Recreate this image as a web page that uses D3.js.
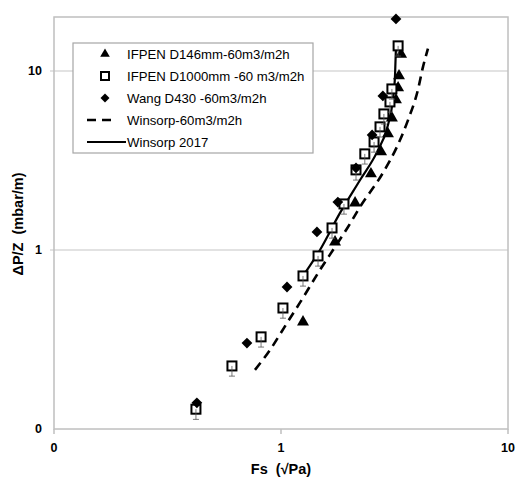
<!DOCTYPE html>
<html>
<head>
<meta charset="utf-8">
<script src="https://cdn.jsdelivr.net/npm/d3@7"></script>
<style>
  body { margin: 0; background: #fff; }
  text { font-family: "Liberation Sans", Arial, sans-serif; fill: #000; }
  .tick-label { font-size: 12.5px; font-weight: bold; }
  .axis-title { font-size: 14.5px; font-weight: bold; }
  .legend-label { font-size: 13.2px; }
</style>
</head>
<body>
<div id="chart"></div>
<script>
// IFPEN D146mm - triangles
const tri146X = [1.25, 1.73, 2.12, 2.49, 2.76, 2.96, 3.08, 3.21, 3.28, 3.31, 3.38];
const tri146Y = [0.396, 1.108, 1.83, 2.66, 3.53, 4.45, 5.46, 6.89, 8.04, 9.38, 12.4];

// IFPEN D1000mm - open squares
const sq1000X = [0.422, 0.608, 0.817, 1.02, 1.25, 1.456, 1.678, 1.894, 2.14, 2.34, 2.57, 2.73, 2.84, 3.02, 3.08, 3.28];
const sq1000Y = [0.129, 0.225, 0.327, 0.474, 0.716, 0.926, 1.327, 1.807, 2.80, 3.44, 4.01, 4.87, 5.75, 6.71, 7.93, 13.8];
const sq1000ErrFrac = 0.1;

// Wang D430 - diamonds
const wangX = [0.426, 0.708, 1.063, 1.44, 1.78, 2.14, 2.52, 2.81, 3.21];
const wangY = [0.140, 0.302, 0.621, 1.26, 1.85, 2.87, 4.39, 7.25, 19.5];

// Winsorp-60m3/m2h - dashed curve
const winsorp60X = [0.768, 0.894, 1.063, 1.21, 1.485, 1.73, 1.97, 2.23, 2.81, 3.24, 3.63, 4.01, 4.22, 4.44];
const winsorp60Y = [0.214, 0.276, 0.391, 0.506, 0.773, 1.04, 1.34, 1.74, 2.69, 3.76, 5.33, 7.83, 10.5, 13.3];

// Winsorp 2017 - solid curve
const winsorp2017X = [1.25, 1.485, 1.82, 2.23, 2.65, 2.96, 3.11, 3.18, 3.21];
const winsorp2017Y = [0.716, 1.0, 1.61, 2.46, 3.53, 4.99, 6.89, 9.5, 13.6];

const xTicks = [0.1, 1, 10];
const xTickLabels = ["0", "1", "10"];
const yTicks = [0.1, 1, 10];
const yTickLabels = ["0", "1", "10"];
const yMax = 20;

const legendLabels = ["IFPEN D146mm-60m3/m2h", "IFPEN D1000mm -60 m3/m2h", "Wang D430 -60m3/m2h", "Winsorp-60m3/m2h", "Winsorp 2017"];

class LogChart {
  constructor(_config) {
    this.config = {
      parentElement: _config.parentElement,
      containerWidth: 516,
      containerHeight: 477,
      margin: { top: 17, right: 8, bottom: 48, left: 54 },
      gridColor: "#d9d9d9",
      borderColor: "#bfbfbf"
    };
    this.initVis();
  }

  initVis() {
    let vis = this;
    vis.width = vis.config.containerWidth - vis.config.margin.left - vis.config.margin.right;
    vis.height = vis.config.containerHeight - vis.config.margin.top - vis.config.margin.bottom;

    vis.svg = d3.select(vis.config.parentElement).append("svg")
      .attr("width", vis.config.containerWidth)
      .attr("height", vis.config.containerHeight);

    vis.chart = vis.svg.append("g")
      .attr("transform", `translate(${vis.config.margin.left},${vis.config.margin.top})`);

    vis.xScale = d3.scaleLog().domain([0.1, 10]).range([0, vis.width]);
    vis.yScale = d3.scaleLog().domain([0.1, yMax]).range([vis.height, 0]);

    vis.updateVis();
  }

  updateVis() {
    let vis = this;
    const x = vis.xScale, y = vis.yScale;

    // gridlines
    vis.chart.selectAll(".grid")
      .data(yTicks.filter(d => d > 0.1))
      .join("line")
      .attr("class", "grid")
      .attr("x1", -4).attr("x2", vis.width)
      .attr("y1", d => y(d)).attr("y2", d => y(d))
      .attr("stroke", vis.config.gridColor).attr("stroke-width", 1.5);

    // plot frame
    vis.chart.append("rect")
      .attr("width", vis.width).attr("height", vis.height)
      .attr("fill", "none")
      .attr("stroke", vis.config.borderColor).attr("stroke-width", 1.5);

    // x ticks
    vis.chart.selectAll(".xtick")
      .data(xTicks)
      .join("line")
      .attr("class", "xtick")
      .attr("x1", d => x(d)).attr("x2", d => x(d))
      .attr("y1", vis.height).attr("y2", vis.height + 5)
      .attr("stroke", vis.config.borderColor).attr("stroke-width", 1.5);

    vis.chart.selectAll(".xlabel")
      .data(xTicks)
      .join("text")
      .attr("class", "xlabel tick-label")
      .attr("x", d => x(d)).attr("y", vis.height + 23)
      .attr("text-anchor", "middle")
      .text((d, i) => xTickLabels[i]);

    vis.chart.selectAll(".ylabel")
      .data(yTicks)
      .join("text")
      .attr("class", "ylabel tick-label")
      .attr("x", -12).attr("y", d => y(d))
      .attr("dy", "0.35em")
      .attr("text-anchor", "end")
      .text((d, i) => yTickLabels[i]);

    // axis titles
    vis.svg.append("text")
      .attr("class", "axis-title")
      .attr("x", vis.config.margin.left + vis.width / 2)
      .attr("y", 474)
      .attr("text-anchor", "middle")
      .attr("xml:space", "preserve")
      .text("Fs  (√Pa)");

    vis.svg.append("text")
      .attr("class", "axis-title")
      .attr("transform", "translate(23,224) rotate(-90)")
      .attr("text-anchor", "middle")
      .attr("xml:space", "preserve")
      .text("ΔP/Z  (mbar/m)");

    const line = d3.line()
      .x(d => x(d[0])).y(d => y(d[1]))
      .curve(d3.curveMonotoneX);

    vis.chart.append("path")
      .datum(d3.zip(winsorp60X, winsorp60Y))
      .attr("d", line)
      .attr("fill", "none").attr("stroke", "#000")
      .attr("stroke-width", 2.6).attr("stroke-dasharray", "9,6");

    vis.chart.append("path")
      .datum(d3.zip(winsorp2017X, winsorp2017Y))
      .attr("d", line)
      .attr("fill", "none").attr("stroke", "#000")
      .attr("stroke-width", 2.2);

    const triangle = d3.symbol().type(d3.symbolTriangle).size(62);
    const diamond = d3.symbol().type(d3.symbolSquare).size(58);

    vis.chart.selectAll(".tri")
      .data(d3.zip(tri146X, tri146Y))
      .join("path")
      .attr("class", "tri")
      .attr("d", triangle)
      .attr("transform", d => `translate(${x(d[0])},${y(d[1])})`)
      .attr("fill", "#000");

    vis.chart.selectAll(".sq")
      .data(d3.zip(sq1000X, sq1000Y))
      .join("rect")
      .attr("class", "sq")
      .attr("x", d => x(d[0]) - 4.5).attr("y", d => y(d[1]) - 4.5)
      .attr("width", 9).attr("height", 9)
      .attr("fill", "#fff").attr("stroke", "#000").attr("stroke-width", 2);

    // error bars on squares
    vis.chart.selectAll(".err")
      .data(d3.zip(sq1000X, sq1000Y))
      .join("path")
      .attr("class", "err")
      .attr("d", d => {
        const cx = x(d[0]), y0 = y(d[1]), y1 = y(d[1] * (1 - sq1000ErrFrac)) + 2;
        return `M${cx},${y0}V${y1}M${cx - 3},${y1}H${cx + 3}`;
      })
      .attr("stroke", "#555").attr("stroke-width", 0.8).attr("fill", "none");

    vis.chart.selectAll(".dia")
      .data(d3.zip(wangX, wangY))
      .join("path")
      .attr("class", "dia")
      .attr("d", diamond)
      .attr("transform", d => `translate(${x(d[0])},${y(d[1])}) rotate(45)`)
      .attr("fill", "#000");

    // legend
    const lg = vis.svg.append("g").attr("transform", "translate(73,43)");
    lg.append("rect")
      .attr("width", 240).attr("height", 110)
      .attr("fill", "#fff").attr("stroke", "#a6a6a6").attr("stroke-width", 1.2);

    const rowY = i => 11 + i * 22;
    lg.append("path").attr("d", d3.symbol().type(d3.symbolTriangle).size(40))
      .attr("transform", `translate(32,${rowY(0)})`).attr("fill", "#000");
    lg.append("rect")
      .attr("x", 28).attr("y", rowY(1) - 4).attr("width", 8).attr("height", 8)
      .attr("fill", "#fff").attr("stroke", "#000").attr("stroke-width", 2);
    lg.append("path").attr("d", d3.symbol().type(d3.symbolSquare).size(40))
      .attr("transform", `translate(32,${rowY(2)}) rotate(45)`).attr("fill", "#000");
    lg.append("line")
      .attr("x1", 14).attr("x2", 44).attr("y1", rowY(3)).attr("y2", rowY(3))
      .attr("stroke", "#000").attr("stroke-width", 2.6).attr("stroke-dasharray", "9,6");
    lg.append("line")
      .attr("x1", 14).attr("x2", 53).attr("y1", rowY(4)).attr("y2", rowY(4))
      .attr("stroke", "#000").attr("stroke-width", 2.2);

    lg.selectAll(".legend-label")
      .data(legendLabels)
      .join("text")
      .attr("class", "legend-label")
      .attr("x", 54)
      .attr("y", (d, i) => rowY(i))
      .attr("dy", "0.35em")
      .text(d => d);
  }
}

new LogChart({ parentElement: "#chart" });
</script>
</body>
</html>
